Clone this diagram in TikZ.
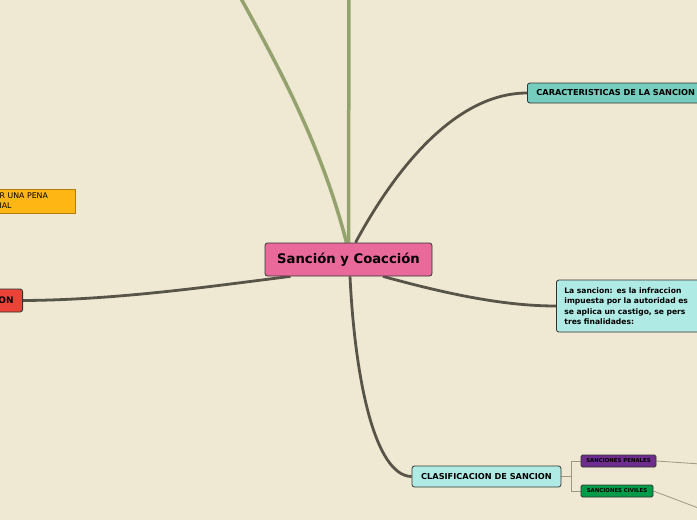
\documentclass[tikz,border=0pt]{standalone}
\usepackage{fontspec}
\setmainfont{DejaVu Sans}
\usetikzlibrary{positioning,backgrounds}

\definecolor{paper}{RGB}{239,232,211}
\definecolor{pinkbox}{RGB}{232,105,154}
\definecolor{tealbox}{RGB}{118,204,189}
\definecolor{cyanbox}{RGB}{175,234,228}
\definecolor{redbox}{RGB}{235,67,57}
\definecolor{orangebox}{RGB}{254,182,21}
\definecolor{purplebox}{RGB}{110,45,140}
\definecolor{greenbox}{RGB}{0,155,72}
\definecolor{branchdark}{RGB}{88,84,72}
\definecolor{branchgreen}{RGB}{148,162,110}
\definecolor{twig}{RGB}{160,150,130}

\begin{document}
\begin{tikzpicture}[x=1pt,y=-1pt,
  topic/.style={draw=black!80,line width=.8pt,rounded corners=2.5pt,inner sep=0pt},
  darkbranch/.style={draw=branchdark,line width=2.8pt},
  greenbranch/.style={draw=branchgreen,line width=3.5pt},
  thinbranch/.style={draw=twig,line width=.8pt}]
\useasboundingbox (0,0) rectangle (697,520);
\clip (0,0) rectangle (697,520);

% main topic and sub topics
\node[topic,fill=pinkbox,minimum width=167,minimum height=33,font=\bfseries\fontsize{13.2}{15}\selectfont] (sancion) at (348.5,259.5) {Sanción y Coacción};
\node[topic,fill=tealbox,anchor=west,minimum height=20,inner xsep=9pt,text width=185,align=left,font=\bfseries\fontsize{8.2}{10}\selectfont] (carac) at (527,93) {CARACTERISTICAS DE LA SANCION};
\node[topic,fill=cyanbox,anchor=west,minimum height=52,inner xsep=8pt,text width=160,align=left,font=\bfseries\fontsize{7.6}{10.5}\selectfont] (concepto) at (556,306) {La sancion: es la infraccion\\impuesta por la autoridad es\\se aplica un castigo, se pers\\tres finalidades:};
\node[topic,fill=cyanbox,minimum width=149,minimum height=21,font=\bfseries\fontsize{8.2}{10}\selectfont] (clasif) at (486.5,476.5) {CLASIFICACION DE SANCION};
\node[topic,fill=purplebox,minimum width=75,minimum height=12,rounded corners=1.5pt,font=\bfseries\fontsize{5.4}{6}\selectfont] (penales) at (618.5,461) {SANCIONES PENALES};
\node[topic,fill=greenbox,minimum width=72,minimum height=12,rounded corners=1.5pt,font=\bfseries\fontsize{5.4}{6}\selectfont] (civiles) at (617,491) {SANCIONES CIVILES};
\node[topic,fill=redbox,anchor=east,minimum height=23,inner xsep=9pt,text width=40,align=right,font=\bfseries\fontsize{9}{10}\selectfont] (coaccion) at (23,300.5) {ON};
\node[draw=orangebox!70!black,fill=orangebox,line width=.8pt,inner sep=0pt,anchor=east,minimum height=24,inner xsep=3pt,text width=73,align=left,font=\fontsize{7.8}{10}\selectfont] (pena) at (76,201) {R UNA PENA\\IAL};

% branches leaving the picture
\coordinate (arriba1) at (228,-25);
\coordinate (arriba2) at (349,-25);
\coordinate (penalesfin) at (730,466);
\coordinate (civilesfin) at (730,520);

\begin{pgfonlayer}{background}
\fill[paper] (0,0) rectangle (697,520);
\draw[greenbranch] ([xshift=-2pt]sancion.north) .. controls (320,140) and (275,60) .. (arriba1);
\draw[greenbranch] (sancion.north) -- (arriba2);
\draw[darkbranch] ([xshift=7pt]sancion.north) .. controls (400,160) and (460,93) .. (carac.west);
\draw[darkbranch] ([xshift=34.5pt]sancion.south) .. controls (440,292) and (500,306) .. (concepto.west);
\draw[darkbranch] ([xshift=1.5pt]sancion.south) .. controls (355,380) and (375,476) .. (clasif.west);
\draw[darkbranch] ([xshift=-58pt]sancion.south) .. controls (220,285) and (120,300) .. (coaccion.east);
\draw[thinbranch] (clasif.east) -- ++(10,0) |- (penales.west);
\draw[thinbranch] (clasif.east) -- ++(10,0) |- (civiles.west);
\draw[thinbranch] (penales.east) -- (penalesfin);
\draw[thinbranch] (civiles.east) -- (civilesfin);
\end{pgfonlayer}
\end{tikzpicture}
\end{document}
